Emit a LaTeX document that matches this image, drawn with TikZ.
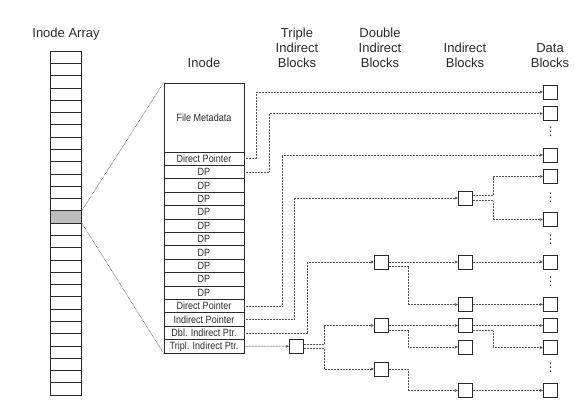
\documentclass[tikz,border=0pt]{standalone}
\usepackage{fontspec}
\setmainfont{Liberation Sans}
\newfontfamily\condfont[FakeStretch=0.86]{Liberation Sans}
\newfontfamily\symfont{DejaVu Sans}
\usetikzlibrary{arrows.meta,calc}
\definecolor{ink}{HTML}{2A2A2A}
\definecolor{dotc}{HTML}{555555}
\definecolor{cellgray}{HTML}{BDBDBD}
\begin{document}
\begin{tikzpicture}[x=1pt,y=-1pt,
  blk/.style={draw=ink, line width=0.9pt, minimum width=14pt, minimum height=14pt, inner sep=0pt, fill=white},
  row/.style={draw=ink, line width=0.8pt, minimum width=80pt, minimum height=13.4pt, inner sep=0pt, font=\condfont\fontsize{10.5}{10.5}\selectfont, text=ink},
  ptr/.style={draw=dotc, line width=0.7pt, dash pattern=on 0.7pt off 0.8pt, -{Stealth[length=3.5pt,width=3pt]}},
  link/.style={draw=dotc, line width=0.6pt, dash pattern=on 0.7pt off 0.8pt},
  hdr/.style={font=\fontsize{13}{15}\selectfont, text=ink, align=center, anchor=north, inner sep=0pt},
  vd/.style={font=\symfont\fontsize{12}{12}\selectfont, text=ink, inner sep=0pt}]
\useasboundingbox (0,0) rectangle (579,418);
% headers
\node[hdr] (hArr) at (66,28.3) {Inode Array};
\node[hdr] (hIno) at (204,58) {Inode};
\node[hdr] (hTri) at (297,28.3) {Triple\\Indirect\\Blocks};
\node[hdr] (hDbl) at (380,28.3) {Double\\Indirect\\Blocks};
\node[hdr] (hInd) at (465,43.3) {Indirect\\Blocks};
\node[hdr] (hDat) at (550,43.3) {Data\\Blocks};
% inode array
\node[draw=ink, line width=0.8pt, minimum width=31pt, minimum height=344pt, inner sep=0pt] (arr) at (66.2,223) {};
\foreach \i in {1,...,27} \draw[ink, line width=0.6pt] (50.7,51+\i*12.286) -- (81.7,51+\i*12.286);
\node[draw=ink, fill=cellgray, line width=0.6pt, minimum width=31pt, minimum height=12.286pt, inner sep=0pt] (g) at (66.2,216.86) {};
% inode
\node[row, minimum height=69pt] (meta) at (204,117.5) {File Metadata};
\foreach \t [count=\i] in {Direct Pointer,DP,DP,DP,DP,DP,DP,DP,DP,DP,DP,Direct Pointer,Indirect Pointer,Dbl. Indirect Ptr.,Tripl. Indirect Ptr.}
  \node[row] (r\i) at (204,152+13.4*\i-6.7) {\t};
\draw[link] (g.north east) -- (meta.north west);
\draw[link] (g.south east) -- (r15.south west);
% blocks
\node[blk] (t) at (296.5,346.3) {};
\node[blk] (b1) at (381.5,262) {};
\node[blk] (b2) at (381.5,325.5) {};
\node[blk] (b3) at (381.5,369) {};
\node[blk] (i1) at (465.5,198) {};
\node[blk] (i2) at (465.5,262) {};
\node[blk] (i3) at (465.5,304.5) {};
\node[blk] (i4) at (465.5,325.5) {};
\node[blk] (i5) at (465.5,347) {};
\node[blk] (i6) at (465.5,390.5) {};
\node[blk] (d1) at (550.5,92) {};
\node[blk] (d2) at (550.5,113.5) {};
\node[blk] (d3) at (550.5,155) {};
\node[blk] (d4) at (550.5,176.5) {};
\node[blk] (d5) at (550.5,219.5) {};
\node[blk] (d6) at (550.5,262) {};
\node[blk] (d7) at (550.5,304.5) {};
\node[blk] (d8) at (550.5,325.5) {};
\node[blk] (d9) at (550.5,347.5) {};
\node[blk] (d10) at (550.5,390.5) {};
\node[vd] (v1) at (550.5,132) {⋮};
\node[vd] (v2) at (550.5,198) {⋮};
\node[vd] (v3) at (550.5,240) {⋮};
\node[vd] (v4) at (550.5,282) {⋮};
\node[vd] (v5) at (550.5,368) {⋮};
% connectors
\draw[ptr] (r1.east) -- ++(12,0) |- (d1.west);
\draw[ptr] (r2.east) -- ++(25,0) |- (d2.west);
\draw[ptr] (r12.east) -- ++(38,0) |- (d3.west);
\draw[ptr] (r13.east) -- ++(50,0) |- (i1.west);
\draw[ptr] (r14.east) -- ++(63,0) |- (b1.west);
\draw[ptr] (r15.east) -- (t.west);
\draw[ptr] ($(i1.east)+(0,-2.5)$) -- ++(20.5,0) |- (d4.west);
\draw[ptr] ($(i1.east)+(0,2.5)$) -- ++(20.5,0) |- (d5.west);
\draw[ptr] (b1.east) -- (i2.west);
\draw[ptr] ($(b1.east)+(0,4.5)$) -- ++(19.5,0) |- (i3.west);
\draw[ptr] (i2.east) -- (d6.west);
\draw[ptr] (i3.east) -- (d7.west);
\draw[ptr] ($(t.east)+(0,-1.7)$) -- ++(20.5,0) |- (b2.west);
\draw[ptr] ($(t.east)+(0,1.7)$) -- ++(20.5,0) |- (b3.west);
\draw[ptr] (b2.east) -- (i4.west);
\draw[ptr] ($(b2.east)+(0,5)$) -- ++(19.5,0) |- (i5.west);
\draw[ptr] (i4.east) -- (d8.west);
\draw[ptr] ($(i4.east)+(0,5)$) -- ++(20.5,0) |- (d9.west);
\draw[ptr] (b3.east) -- ++(19.5,0) |- (i6.west);
\draw[ptr] (i6.east) -- (d10.west);
\end{tikzpicture}
\end{document}
